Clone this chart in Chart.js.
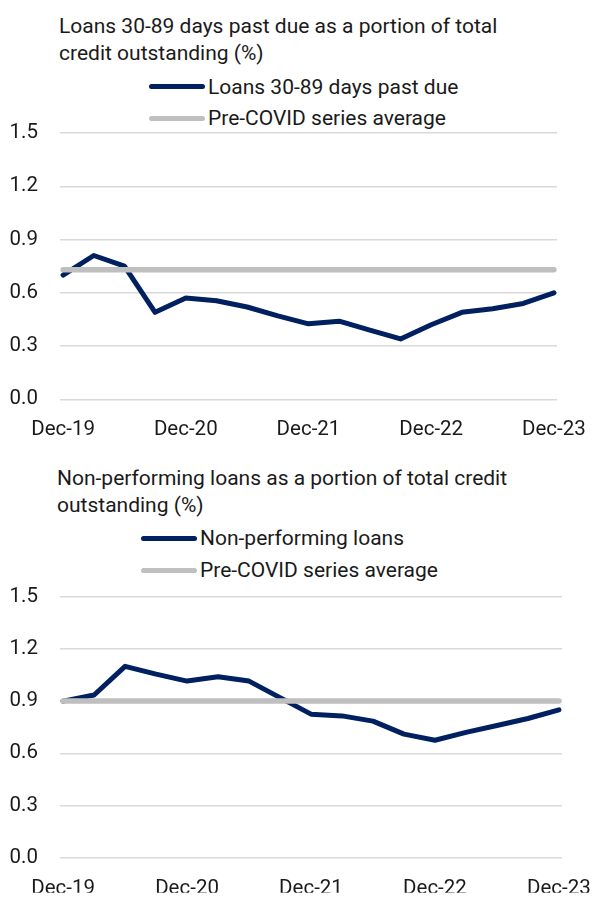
<!DOCTYPE html>
<html>
<head>
<meta charset="utf-8">
<script src="https://cdn.jsdelivr.net/npm/chart.js@4.4.1/dist/chart.umd.min.js"></script>
<style>
  html, body { margin: 0; padding: 0; background: #fff; }
  body { width: 592px; height: 897px; position: relative; overflow: hidden;
         font-family: Roboto, "Liberation Sans", sans-serif; color: #1a1a1a; }
  .title { position: absolute; font-size: 21px; line-height: 27px; white-space: nowrap; }
  .lrow { position: absolute; height: 26px; display: flex; align-items: center;
          font-size: 21px; white-space: nowrap; }
  .sw { display: inline-block; width: 56px; height: 5px; border-radius: 3px; margin-right: 3px; }
  canvas { position: absolute; left: 0; }
</style>
</head>
<body>
<div class="title" id="t1" style="left:59px;top:12.6px;"></div>
<div class="lrow" id="l1a" style="left:149px;top:73.7px;"></div>
<div class="lrow" id="l1b" style="left:149px;top:105.3px;"></div>
<canvas id="c1" width="592" height="450" style="top:0;width:592px;height:450px;"></canvas>

<div class="title" id="t2" style="left:57px;top:464.6px;"></div>
<div class="lrow" id="l2a" style="left:141px;top:525.3px;"></div>
<div class="lrow" id="l2b" style="left:141px;top:557px;"></div>
<canvas id="c2" width="592" height="447" style="top:450px;width:592px;height:447px;"></canvas>

<script>
// ---------- DATA ----------
const quarters = ['Dec-19','Mar-20','Jun-20','Sep-20','Dec-20','Mar-21','Jun-21','Sep-21','Dec-21',
                  'Mar-22','Jun-22','Sep-22','Dec-22','Mar-23','Jun-23','Sep-23','Dec-23'];
const shownLabels = ['Dec-19','Dec-20','Dec-21','Dec-22','Dec-23'];
const yTicks = [0.0, 0.3, 0.6, 0.9, 1.2, 1.5];

const title1 = ['Loans 30-89 days past due as a portion of total', 'credit outstanding (%)'];
const series1Name = 'Loans 30-89 days past due';
const series1 = [0.70, 0.81, 0.75, 0.49, 0.57, 0.555, 0.52, 0.47, 0.425, 0.44, 0.39, 0.34, 0.42, 0.49, 0.51, 0.54, 0.60];
const avg1 = 0.73;

const title2 = ['Non-performing loans as a portion of total credit', 'outstanding (%)'];
const series2Name = 'Non-performing loans';
const series2 = [0.90, 0.935, 1.10, 1.055, 1.015, 1.04, 1.015, 0.92, 0.825, 0.815, 0.785, 0.71, 0.675, 0.72, 0.76, 0.80, 0.85];
const avg2 = 0.90;

const avgName = 'Pre-COVID series average';

// ---------- STYLE ----------
const NAVY = '#002060';
const GREY = '#bfbfbf';
const GRID = '#d9d9d9';
const FONT = 'Roboto';
const TICK_SIZE = 20.5;

function legendRow(id, color, text) {
  const el = document.getElementById(id);
  const sw = document.createElement('span');
  sw.className = 'sw'; sw.style.background = color;
  const tx = document.createElement('span');
  tx.textContent = text;
  el.appendChild(sw); el.appendChild(tx);
}
function setTitle(id, lines) {
  const el = document.getElementById(id);
  lines.forEach((l, i) => {
    if (i) el.appendChild(document.createElement('br'));
    el.appendChild(document.createTextNode(l));
  });
}
setTitle('t1', title1); setTitle('t2', title2);
legendRow('l1a', NAVY, series1Name); legendRow('l1b', GREY, avgName);
legendRow('l2a', NAVY, series2Name); legendRow('l2b', GREY, avgName);

function makeChart(canvasId, values, avg, name, padding, xAxisHeight, xTickPad) {
  const xMin = -0.1, xMax = quarters.length - 1 + 0.1;
  return new Chart(document.getElementById(canvasId), {
    type: 'line',
    data: {
      datasets: [
        { label: avgName, order: 0,
          data: quarters.map((q, i) => ({ x: i, y: avg })),
          borderColor: GREY, borderWidth: 5.5, pointRadius: 0, borderCapStyle: 'round' },
        { label: name, order: 1,
          data: values.map((v, i) => ({ x: i, y: v })),
          borderColor: NAVY, borderWidth: 5, pointRadius: 0, tension: 0,
          borderCapStyle: 'round', borderJoinStyle: 'round' }
      ]
    },
    options: {
      responsive: false, animation: false,
      layout: { padding: padding },
      plugins: { legend: { display: false }, title: { display: false }, tooltip: { enabled: false } },
      scales: {
        x: {
          type: 'linear', min: xMin, max: xMax,
          afterBuildTicks: (axis) => {
            axis.ticks = shownLabels.map(l => ({ value: quarters.indexOf(l) }));
          },
          afterFit: (axis) => { axis.height = xAxisHeight; axis.paddingLeft = 0; axis.paddingRight = 0; },
          grid: { display: false, drawTicks: false },
          border: { display: false },
          ticks: {
            autoSkip: false, maxRotation: 0, minRotation: 0, padding: xTickPad,
            color: '#1a1a1a', font: { family: FONT, size: TICK_SIZE },
            callback: (v) => quarters[v]
          }
        },
        y: {
          min: 0, max: 1.5,
          afterBuildTicks: (axis) => { axis.ticks = yTicks.map(v => ({ value: v })); },
          afterFit: (axis) => { axis.width = 60; axis.paddingTop = 0; axis.paddingBottom = 0; },
          grid: { color: GRID, lineWidth: 1.5, drawTicks: false },
          border: { display: false },
          ticks: {
            padding: 22, color: '#1a1a1a', font: { family: FONT, size: TICK_SIZE },
            callback: (v) => Number(v).toFixed(1)
          }
        }
      }
    }
  });
}

makeChart('c1', series1, avg1, series1Name, { top: 133, right: 35, bottom: 10.7, left: 0 }, 40, 18);
makeChart('c2', series2, avg2, series2Name, { top: 146.7, right: 30, bottom: 4.3, left: 0 }, 35, 18.5);
</script>
</body>
</html>
